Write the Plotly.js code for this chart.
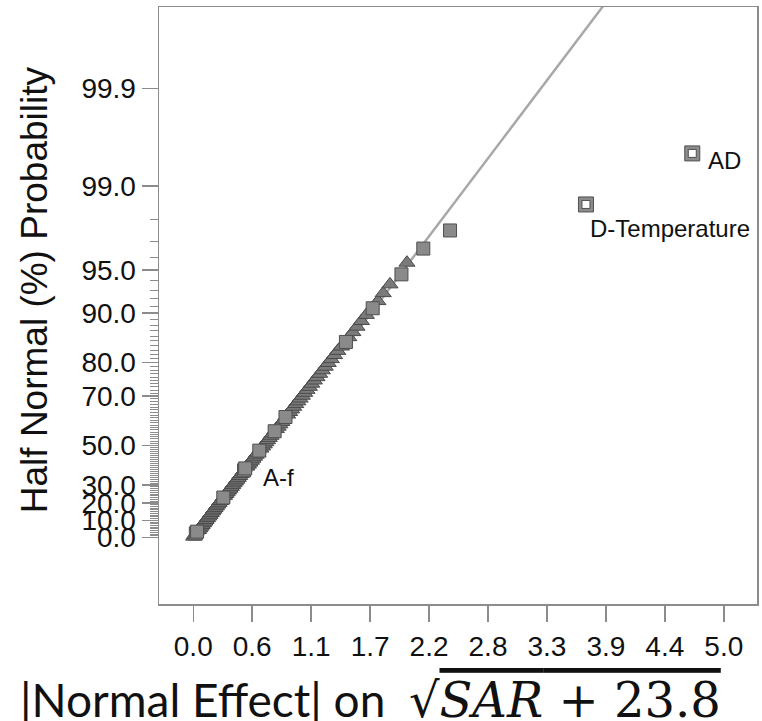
<!DOCTYPE html>
<html>
<head>
<meta charset="utf-8">
<script src="https://cdn.plot.ly/plotly-3.0.1.min.js"></script>
<style>html,body{margin:0;padding:0;background:#fff;}#chart{width:762px;height:721px;}</style>
</head>
<body>
<div id="chart"></div>
<script>
// |Normal effect| for each of the 102 ranked effects
const effect = [
 0.004,0.012,0.024,0.036,0.049,0.061,0.073,0.084,0.097,0.109,
 0.120,0.133,0.145,0.157,0.169,0.181,0.193,0.205,0.218,0.230,
 0.243,0.256,0.268,0.283,0.294,0.306,0.319,0.332,0.345,0.358,
 0.371,0.384,0.397,0.410,0.424,0.437,0.451,0.465,0.478,0.489,
 0.505,0.519,0.533,0.548,0.562,0.577,0.592,0.607,0.622,0.637,
 0.653,0.669,0.684,0.700,0.716,0.733,0.749,0.767,0.783,0.800,
 0.817,0.835,0.853,0.869,0.889,0.908,0.927,0.946,0.966,0.986,
 1.007,1.028,1.050,1.072,1.094,1.117,1.141,1.166,1.191,1.217,
 1.244,1.272,1.301,1.331,1.362,1.396,1.439,1.466,1.504,1.543,
 1.585,1.631,1.691,1.740,1.790,1.854,1.962,2.014,2.168,2.420,
 3.701,4.703
];
// Half-normal probability (%) of each ranked effect
const probability = [
 0.49,1.47,2.45,3.43,4.41,5.39,6.37,7.35,8.33,9.31,
 10.29,11.27,12.25,13.24,14.22,15.20,16.18,17.16,18.14,19.12,
 20.10,21.08,22.06,23.04,24.02,25.00,25.98,26.96,27.94,28.92,
 29.90,30.88,31.86,32.84,33.82,34.80,35.78,36.76,37.75,38.73,
 39.71,40.69,41.67,42.65,43.63,44.61,45.59,46.57,47.55,48.53,
 49.51,50.49,51.47,52.45,53.43,54.41,55.39,56.37,57.35,58.33,
 59.31,60.29,61.27,62.25,63.24,64.22,65.20,66.18,67.16,68.14,
 69.12,70.10,71.08,72.06,73.04,74.02,75.00,75.98,76.96,77.94,
 78.92,79.90,80.88,81.86,82.84,83.82,84.80,85.78,86.76,87.75,
 88.73,89.71,90.69,91.67,92.65,93.63,94.61,95.59,96.57,97.55,
 98.53,99.51
];
// t = error estimate (triangle), s = effect (square), h = selected model term
const markerKind = [
 't','t','s','s','t','t','t','t','t','t',
 't','t','t','t','t','t','t','t','t','t',
 't','t','t','s','t','t','t','t','t','t',
 't','t','t','t','t','t','t','t','s','s',
 't','t','t','t','t','t','t','t','s','t',
 't','t','t','t','t','t','t','s','t','t',
 't','t','t','s','t','t','t','t','t','t',
 't','t','t','t','t','t','t','t','t','t',
 't','t','t','t','t','t','s','t','t','t',
 't','t','s','t','t','t','s','t','s','s',
 'h','h'
];
const labelTerms = ['A-f','D-Temperature','AD'];
const labelRank = [40,101,102];
// fitted reference line: effect = lineIntercept + lineSlope * z
const lineIntercept = 0.075;
const lineSlope = 0.973;
// axis ticks
const yTickProb = [0,10,20,30,50,70,80,90,95,99,99.9];
const yTickText = ['0.0','10.0','20.0','30.0','50.0','70.0','80.0','90.0','95.0','99.0','99.9'];
const yMinorProb = [];
for (let p = 1; p <= 98; p++) if (!yTickProb.includes(p)) yMinorProb.push(p);
const xTickVals = [0,0.5556,1.1111,1.6667,2.2222,2.7778,3.3333,3.8889,4.4444,5.0];
const xTickText = ['0.0','0.6','1.1','1.7','2.2','2.8','3.3','3.9','4.4','5.0'];

// inverse standard normal (Acklam)
function invNorm(p){
  const a=[-3.969683028665376e+01,2.209460984245205e+02,-2.759285104469687e+02,1.383577518672690e+02,-3.066479806614716e+01,2.506628277459239e+00];
  const b=[-5.447609879822406e+01,1.615858368580409e+02,-1.556989798598866e+02,6.680131188771972e+01,-1.328068155288572e+01];
  const c=[-7.784894002430293e-03,-3.223964580411365e-01,-2.400758277161838e+00,-2.549732539343734e+00,4.374664141464968e+00,2.938163982698783e+00];
  const d=[7.784695709041462e-03,3.224671290700398e-01,2.445134137142996e+00,3.754408661907416e+00];
  const pl=0.02425, ph=1-pl; let q,r;
  if(p<pl){q=Math.sqrt(-2*Math.log(p));return (((((c[0]*q+c[1])*q+c[2])*q+c[3])*q+c[4])*q+c[5])/((((d[0]*q+d[1])*q+d[2])*q+d[3])*q+1);}
  if(p<=ph){q=p-0.5;r=q*q;return (((((a[0]*r+a[1])*r+a[2])*r+a[3])*r+a[4])*r+a[5])*q/(((((b[0]*r+b[1])*r+b[2])*r+b[3])*r+b[4])*r+1);}
  q=Math.sqrt(-2*Math.log(1-p));return -(((((c[0]*q+c[1])*q+c[2])*q+c[3])*q+c[4])*q+c[5])/((((d[0]*q+d[1])*q+d[2])*q+d[3])*q+1);
}
// half-normal probability scale
function hz(pct){ return pct<=0 ? 0 : invNorm(0.5 + pct/200); }

const zAll = probability.map(hz);
function pick(kind){
  const xs=[],ys=[];
  markerKind.forEach((k,i)=>{ if(k===kind){xs.push(effect[i]);ys.push(zAll[i]);} });
  return {xs,ys};
}
const tri = pick('t'), sq = pick('s'), hol = pick('h');
const yRange = [-0.487, 3.886];
const lineZ = [0, 4.2];
const lineX = lineZ.map(z => lineIntercept + lineSlope*z);

const traces = [
  {x: lineX, y: lineZ, mode:'lines', line:{color:'#a8a8a8', width:2.5}, hoverinfo:'skip'},
  {x: tri.xs, y: tri.ys, mode:'markers', marker:{symbol:'triangle-up', size:14, color:'#7a7a7a', line:{color:'#4a4a4a', width:1}}},
  {x: sq.xs, y: sq.ys, mode:'markers', marker:{symbol:'square', size:13, color:'#8a8a8a', line:{color:'#4f4f4f', width:1}}},
  {x: hol.xs, y: hol.ys, mode:'markers', marker:{symbol:'square', size:15, color:'#8c8c8c', line:{color:'#4f4f4f', width:1}}},
  {x: hol.xs, y: hol.ys, mode:'markers', marker:{symbol:'square', size:8, color:'#ffffff', line:{color:'#4f4f4f', width:1}}}
];

const labelShift = [[16,-9],[2,-24],[14,-7]];
const annotations = labelTerms.map((t,k)=>({
  x: effect[labelRank[k]-1], y: zAll[labelRank[k]-1], xref:'x', yref:'y',
  text: t, showarrow:false, xanchor:'left', yanchor:'middle',
  xshift: labelShift[k][0], yshift: labelShift[k][1],
  font:{family:'Liberation Sans, Arial', size:24, color:'#111'}
}));
annotations.push({
  xref:'paper', yref:'paper', x:-0.207, y:0.526, textangle:-90, showarrow:false,
  xanchor:'center', yanchor:'middle',
  text:'Half Normal (%) Probability',
  font:{family:'Liberation Sans, Arial', size:37, color:'#111'}
});
annotations.push({
  xref:'paper', yref:'paper', x:0.3545, y:-0.161, showarrow:false,
  xanchor:'center', yanchor:'middle',
  text:'|Normal Effect| on  <span style="font-family:DejaVu Serif;font-size:48px">√</span><span style="font-family:DejaVu Serif;font-size:48px;font-style:italic;text-decoration:overline">SAR</span><span style="font-family:DejaVu Serif;font-size:48px;text-decoration:overline"> + 23.8</span>',
  font:{family:'Lato', size:46, color:'#111'}
});

const layout = {
  width:762, height:721,
  margin:{l:159, r:5, t:7, b:117},
  paper_bgcolor:'#ffffff', plot_bgcolor:'#ffffff',
  showlegend:false,
  font:{family:'Liberation Sans, Arial', color:'#111'},
  xaxis:{
    range:[-0.323, 5.313], showgrid:false, zeroline:false,
    showline:true, mirror:true, linecolor:'#8c8c8c', linewidth:1.5,
    ticks:'outside', ticklen:16, tickwidth:1.5, tickcolor:'#8c8c8c',
    tickmode:'array', tickvals:xTickVals, ticktext:xTickText,
    ticklabelstandoff:1,
    tickfont:{family:'Liberation Sans, Arial', size:28, color:'#111'}
  },
  yaxis:{
    range:yRange, showgrid:false, zeroline:false,
    showline:true, mirror:true, linecolor:'#8c8c8c', linewidth:1.5,
    ticks:'outside', ticklen:16, tickwidth:1.5, tickcolor:'#8c8c8c',
    tickmode:'array', tickvals:yTickProb.map(hz), ticktext:yTickText,
    tickfont:{family:'Liberation Sans, Arial', size:28, color:'#111'},
    minor:{tickmode:'array', tickvals:yMinorProb.map(hz), ticks:'outside', ticklen:8, tickwidth:1, tickcolor:'#8c8c8c', showgrid:false}
  },
  annotations: annotations
};
Plotly.newPlot('chart', traces, layout, {staticPlot:true, displayModeBar:false});
</script>
</body>
</html>
